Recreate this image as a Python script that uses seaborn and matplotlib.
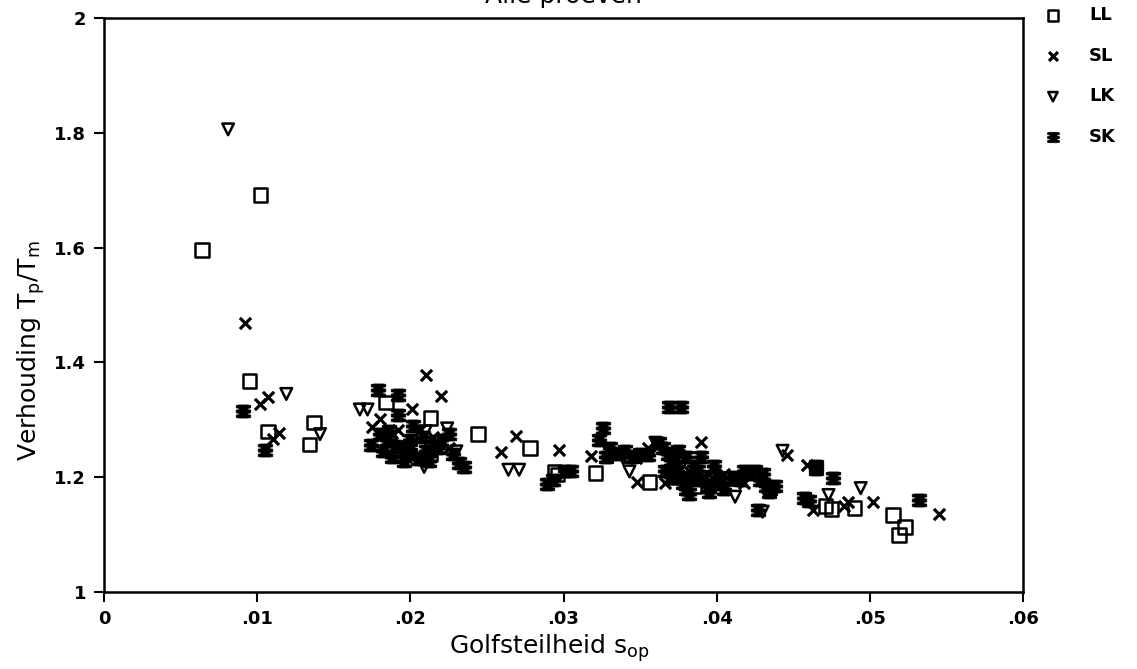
import matplotlib
matplotlib.use("Agg")
import matplotlib.pyplot as plt
from matplotlib.path import Path
import seaborn as sns

# Golfsteilheid s_op and ratio Tp/Tm per test series
ll_s = [0.0064, 0.0102, 0.0095, 0.0137, 0.0107, 0.0134, 0.0184, 0.0213, 0.0213,
        0.0205, 0.0244, 0.0278, 0.0294, 0.0296, 0.0321, 0.0356, 0.0372, 0.0385,
        0.0398, 0.0410, 0.0471, 0.0475, 0.0490, 0.0515, 0.0523, 0.0519]
ll_r = [1.596, 1.692, 1.368, 1.295, 1.280, 1.257, 1.330, 1.303, 1.240,
        1.255, 1.275, 1.251, 1.210, 1.205, 1.207, 1.192, 1.200, 1.185,
        1.195, 1.198, 1.150, 1.145, 1.146, 1.134, 1.113, 1.099]

sl_s = [0.0092, 0.0107, 0.0102, 0.0114, 0.0110, 0.0210, 0.0220, 0.0201, 0.0180,
        0.0175, 0.0192, 0.0206, 0.0215, 0.0188, 0.0200, 0.0225, 0.0269, 0.0259,
        0.0297, 0.0318, 0.0347, 0.0348, 0.0360, 0.0390, 0.0375, 0.0382, 0.0395,
        0.0405, 0.0418, 0.0446, 0.0459, 0.0463, 0.0486, 0.0483, 0.0502, 0.0545,
        0.0355, 0.0366]
sl_r = [1.469, 1.339, 1.328, 1.277, 1.266, 1.378, 1.341, 1.319, 1.301,
        1.288, 1.282, 1.282, 1.270, 1.262, 1.255, 1.250, 1.272, 1.244,
        1.247, 1.237, 1.233, 1.192, 1.262, 1.262, 1.240, 1.210, 1.190,
        1.205, 1.190, 1.239, 1.221, 1.143, 1.157, 1.150, 1.157, 1.136,
        1.250, 1.190]

lk_s = [0.0081, 0.0119, 0.0141, 0.0167, 0.0172, 0.0224, 0.0209, 0.0198, 0.0230,
        0.0264, 0.0271, 0.0339, 0.0343, 0.0360, 0.0378, 0.0390, 0.0412, 0.0430,
        0.0443, 0.0473, 0.0494, 0.0210]
lk_r = [1.806, 1.345, 1.275, 1.318, 1.318, 1.285, 1.218, 1.240, 1.245,
        1.213, 1.213, 1.233, 1.210, 1.260, 1.225, 1.200, 1.166, 1.140,
        1.246, 1.169, 1.181, 1.280]

sk_s = [0.0091, 0.0105,
        0.0179, 0.0192, 0.0192, 0.0174, 0.0180, 0.0185, 0.0190, 0.0195, 0.0200,
        0.0188, 0.0182, 0.0196, 0.0205, 0.0210, 0.0215, 0.0220, 0.0212, 0.0225,
        0.0228, 0.0232, 0.0235, 0.0200, 0.0208, 0.0218, 0.0186, 0.0202, 0.0198,
        0.0289, 0.0301, 0.0305, 0.0293,
        0.0326, 0.0323, 0.0330, 0.0335, 0.0340, 0.0345, 0.0350, 0.0355, 0.0328,
        0.0369, 0.0377, 0.0362, 0.0365, 0.0368, 0.0370, 0.0372, 0.0374, 0.0376,
        0.0378, 0.0380, 0.0382, 0.0370, 0.0366, 0.0375, 0.0380, 0.0385, 0.0388,
        0.0392, 0.0395, 0.0385, 0.0390, 0.0398, 0.0400, 0.0402, 0.0405, 0.0395,
        0.0410, 0.0415, 0.0420, 0.0425, 0.0428, 0.0432, 0.0435, 0.0430, 0.0434,
        0.0438, 0.0427, 0.0418,
        0.0476, 0.0457, 0.0460, 0.0465, 0.0465, 0.0532]
sk_r = [1.315, 1.247,
        1.352, 1.343, 1.308, 1.256, 1.275, 1.265, 1.255, 1.245, 1.240,
        1.235, 1.245, 1.228, 1.232, 1.245, 1.255, 1.265, 1.228, 1.275,
        1.240, 1.225, 1.218, 1.265, 1.270, 1.250, 1.280, 1.290, 1.250,
        1.189, 1.210, 1.210, 1.195,
        1.285, 1.265, 1.250, 1.240, 1.245, 1.235, 1.240, 1.238, 1.235,
        1.323, 1.323, 1.260, 1.250, 1.240, 1.230, 1.220, 1.210, 1.200,
        1.190, 1.180, 1.170, 1.200, 1.210, 1.245, 1.235, 1.220, 1.210,
        1.195, 1.185, 1.195, 1.235, 1.220, 1.200, 1.190, 1.180, 1.175,
        1.200, 1.195, 1.205, 1.210, 1.195, 1.185, 1.180, 1.205, 1.175,
        1.185, 1.143, 1.210,
        1.198, 1.163, 1.158, 1.220, 1.215, 1.160]

x_ticks = [0, 0.01, 0.02, 0.03, 0.04, 0.05, 0.06]
x_tick_labels = ["0", ".01", ".02", ".03", ".04", ".05", ".06"]
y_ticks = [1.0, 1.2, 1.4, 1.6, 1.8, 2.0]
y_tick_labels = ["1", "1.2", "1.4", "1.6", "1.8", "2"]

sns.set_theme(style="white")
plt.rcParams["font.family"] = ["DejaVu Sans"]
plt.rcParams["mathtext.fontset"] = "dejavusans"
plt.rcParams["text.color"] = "black"
plt.rcParams["axes.labelcolor"] = "black"
plt.rcParams["xtick.color"] = "black"
plt.rcParams["ytick.color"] = "black"

# filled marker with three horizontal bars for the SK series
sk_marker = Path([(-0.30, 0.45), (0.30, 0.45), (0.50, 0.42), (0.50, 0.25),
                  (0.30, 0.22), (0.30, 0.12), (0.50, 0.10), (0.50, -0.10),
                  (0.30, -0.12), (0.30, -0.22), (0.50, -0.25), (0.50, -0.42),
                  (0.30, -0.45), (-0.30, -0.45), (-0.50, -0.42), (-0.50, -0.25),
                  (-0.30, -0.22), (-0.30, -0.12), (-0.50, -0.10), (-0.50, 0.10),
                  (-0.30, 0.12), (-0.30, 0.22), (-0.50, 0.25), (-0.50, 0.42),
                  (-0.30, 0.45)], closed=True)

fig = plt.figure(figsize=(11.37, 6.69), dpi=100)
ax = fig.add_axes([0.0915, 0.1151, 0.8083, 0.858])

series = [
    ("LL", ll_s, ll_r, "s", 95, 1.8, True),
    ("SL", sl_s, sl_r, "x", 65, 2.3, False),
    ("LK", lk_s, lk_r, "v", 70, 1.8, True),
    ("SK", sk_s, sk_r, sk_marker, 110, 0.5, False),
]
for name, xs, ys, mk, size, lw, hollow in series:
    sns.scatterplot(x=xs, y=ys, marker=mk, s=size, linewidth=lw,
                    color="black", edgecolor="black", ax=ax, label=name,
                    zorder=3)
    coll = ax.collections[-1]
    coll.set_edgecolor("black")
    coll.set_facecolor("none" if hollow else "black")

ax.set_xlim(0, 0.06)
ax.set_ylim(1.0, 2.0)
ax.set_xticks(x_ticks)
ax.set_xticklabels(x_tick_labels, fontweight="bold", fontsize=13)
ax.set_yticks(y_ticks)
ax.set_yticklabels(y_tick_labels, fontweight="bold", fontsize=13)
ax.tick_params(axis="both", which="major", direction="out", length=7,
               width=1.5, color="black", labelcolor="black",
               bottom=True, left=True, pad=6)
for sp in ax.spines.values():
    sp.set_visible(True)
    sp.set_color("black")
    sp.set_linewidth(1.8)

ax.set_xlabel(r"Golfsteilheid s$_\mathregular{op}$", fontsize=18)
ax.xaxis.set_label_coords(0.485, -0.07)
ax.set_ylabel(r"Verhouding T$_\mathregular{p}$/T$_\mathregular{m}$",
              fontsize=18)
ax.yaxis.set_label_coords(-0.062, 0.42)

fig.text(0.4956, 0.995, "Alle proeven", ha="center", va="baseline",
         fontsize=18)

leg = ax.legend(loc="upper left", bbox_to_anchor=(1.005, 1.033), frameon=False,
                prop={"weight": "bold", "size": 13}, labelspacing=1.25,
                handletextpad=1.0, markerscale=0.8, borderaxespad=0)

fig.savefig("out.png", dpi=100)
